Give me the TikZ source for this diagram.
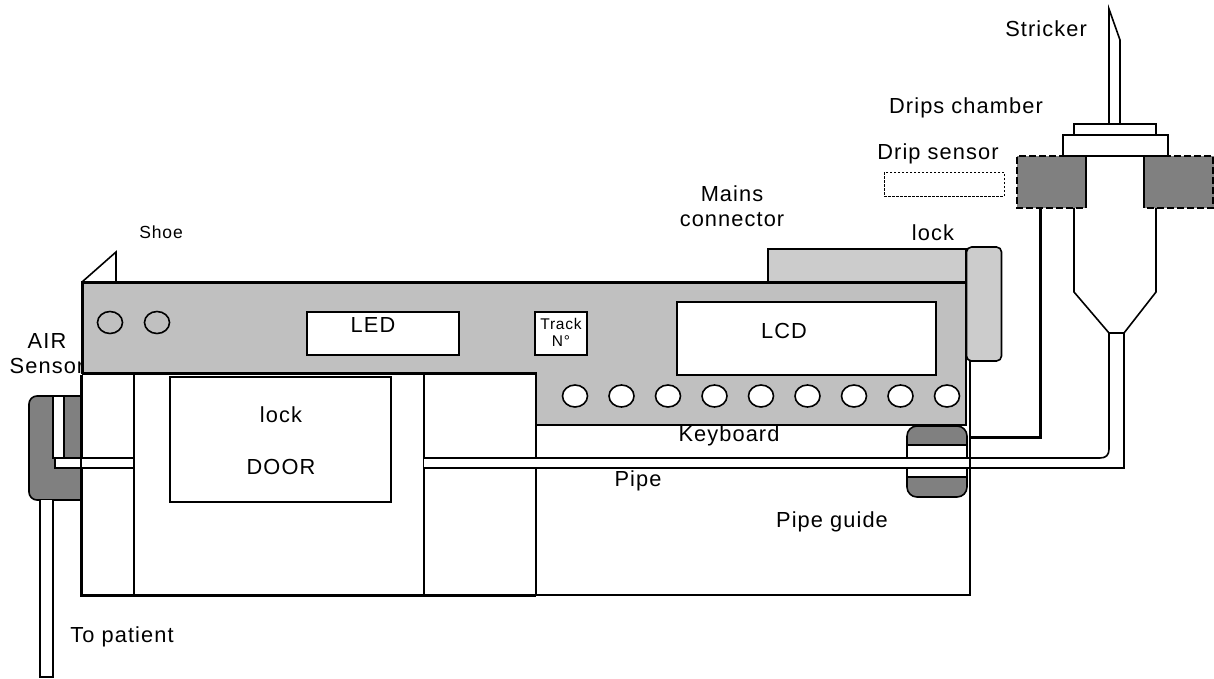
\documentclass[tikz,border=0pt]{standalone}
\usepackage{fontspec}
\setmainfont[LetterSpace=5]{Liberation Sans}
\usepackage{xcolor}
\usetikzlibrary{shapes.geometric,positioning,calc}
\definecolor{panelgray}{HTML}{C0C0C0}
\definecolor{lightgray}{HTML}{CCCCCC}
\definecolor{darkgray}{HTML}{808080}

\begin{document}
\begin{tikzpicture}[x=1pt, y=-1pt,
  line/.style   = {draw=black, line width=1.6pt},
  heavy/.style  = {draw=black, line width=3pt},
  dashedge/.style = {line width=2pt, dash pattern=on 7pt off 3pt},
  box/.style    = {rectangle, line, fill=white, inner sep=0pt, outer sep=0pt},
  bulb/.style   = {ellipse, line, minimum width=25pt, minimum height=22pt, inner sep=0pt},
  txt/.style    = {font=\fontsize{21.8}{25}\selectfont, inner sep=0pt, align=center}
]
\useasboundingbox (0,0) rectangle (1214,678);

% -- Case below the panel --
\draw[line] (134,375) -- (134,595);
\draw[line] (424,375) -- (424,595);
\draw[line] (536,375) -- (536,595);
\draw[heavy] (81,375) -- (81,595) -- (536,595);

% -- Mains connector and lock --
\draw[line, fill=lightgray] (768,281) -- (768,249) -- (966,249) -- (966,281);
\node[box, fill=lightgray, rounded corners=5pt, minimum width=35pt, minimum height=114pt] (locktab) at (984,304) {};

% -- Panel --
\draw[line, fill=white] (82,282) -- (116,252) -- (116,282);
\draw[line, fill=panelgray] (82,282) -- (966,282) -- (966,425) -- (536,425) -- (536,373) -- (82,373) -- cycle;
\draw[heavy] (82,373) -- (82,282) -- (966,282);
\draw[heavy] (82,373) -- (536,373);

\node[box, minimum width=152pt, minimum height=43pt] (led)   at (383,333.5) {};
\node[box, minimum width=52pt,  minimum height=43pt] (track) at (561,333.5) {};
\node[box, minimum width=259pt, minimum height=73pt] (lcd)   at (806.5,338.5) {};
\node[box, minimum width=221pt, minimum height=125pt] (door) at (280.5,439.5) {};

\node[bulb] (bulbA) at (110,322.5) {};
\node[bulb] (bulbB) at (157,322.5) {};
\foreach \i in {0,...,8}
  \node[bulb, fill=white] (key\i) at (575+46.5*\i,396) {};

% -- Pipe guide --
\draw[line, fill=white] (907,445) rectangle (967,477);
\draw[line, fill=darkgray, rounded corners=10pt] (907,445) -- (907,426) -- (967,426) -- (967,445);
\draw[line, fill=darkgray, rounded corners=10pt] (907,477) -- (907,497) -- (967,497) -- (967,477);
\draw[line width=2.2pt] (907,445) -- (967,445);
\draw[line width=2.2pt] (907,477) -- (967,477);

% -- Pipe --
\draw[line, fill=white] (424,458) -- (1100,458) .. controls (1106,458) and (1109,455) .. (1109,449)
  -- (1109,333) -- (1124,333) -- (1124,468) -- (424,468);
\draw[line] (970,361) -- (970,595) -- (536,595);

% -- Air sensor --
\draw[line, fill=darkgray, rounded corners=8pt] (81,396) -- (29,396) -- (29,500) -- (81,500);
\draw[line, fill=white] (64,458) -- (64,396) -- (53,396) -- (53,458) -- cycle;
\draw[line, fill=white] (134,458) -- (55,458) -- (55,468) -- (134,468);
\draw[line] (81,375) -- (81,595);
\draw[line, fill=white] (53,500) -- (53,677) -- (40,677) -- (40,500);
\draw[line] (134,375) -- (134,595);

% -- Drip chamber --
\draw[line, fill=white] (1074,208) -- (1074,292) -- (1109,333) -- (1124,333) -- (1156,292) -- (1156,208);
\fill[darkgray] (1017,156) rectangle (1086,208);
\fill[darkgray] (1144,156) rectangle (1214,208);
\draw[dashedge] (1086,156) -- (1017,156) -- (1017,208) -- (1086,208);
\draw[dashedge] (1144,156) -- (1213,156) -- (1213,208) -- (1144,208);
\draw[line] (1086,156) -- (1086,208);
\draw[line] (1144,156) -- (1144,208);
\node[box, minimum width=105pt, minimum height=21pt] (cap)    at (1115.5,145.5) {};
\node[box, minimum width=82pt,  minimum height=11pt] (collar) at (1115,129.5) {};
\draw[line, fill=white] (1109,124) -- (1109,9) -- (1120,40) -- (1120,124) -- cycle;
\node[box, draw=black, line width=0.7pt, dash pattern=on 2.5pt off 1.5pt, minimum width=120pt, minimum height=24pt] (dripbox) at (944,184) {};

% -- Sensor wire --
\coordinate (wirestart) at (970,437);
\coordinate (wirebend) at (1040,437);
\coordinate (wireend) at (1040,208);
\draw[heavy] (wirestart) -- (wirebend) -- (wireend);

% -- Labels --
\node[txt] (lstricker) at (1046,29) {Stricker};
\node[txt] (lchamber)  at (966,108) {Drips chamber};
\node[txt] (lsensor)   at (938,154) {Drip sensor};
\node[txt] (lmains)    at (732,206) {Mains\\connector};
\node[txt] (llock)     at (933,233) {lock};
\node[txt, font=\fontsize{17.5}{19}\selectfont] (lshoe) at (161,232) {Shoe};
\node[txt] (lair)      at (47,354) {AIR\\Sensor};
\node[txt] (lled)      at (373,325) {LED};
\node[txt, font=\fontsize{15.5}{17}\selectfont] (ltrack) at (561,332) {Track\\N°};
\node[txt] (llcd)      at (784,331) {LCD};
\node[txt] (ldoorlock) at (281,415) {lock};
\node[txt] (ldoor)     at (281,467) {DOOR};
\node[txt] (lkeys)     at (729,436) {Keyboard};
\node[txt] (lpipe)     at (638,481) {Pipe};
\node[txt] (lguide)    at (832,522) {Pipe guide};
\node[txt] (lpatient)  at (122,637) {To patient};
\end{tikzpicture}
\end{document}
